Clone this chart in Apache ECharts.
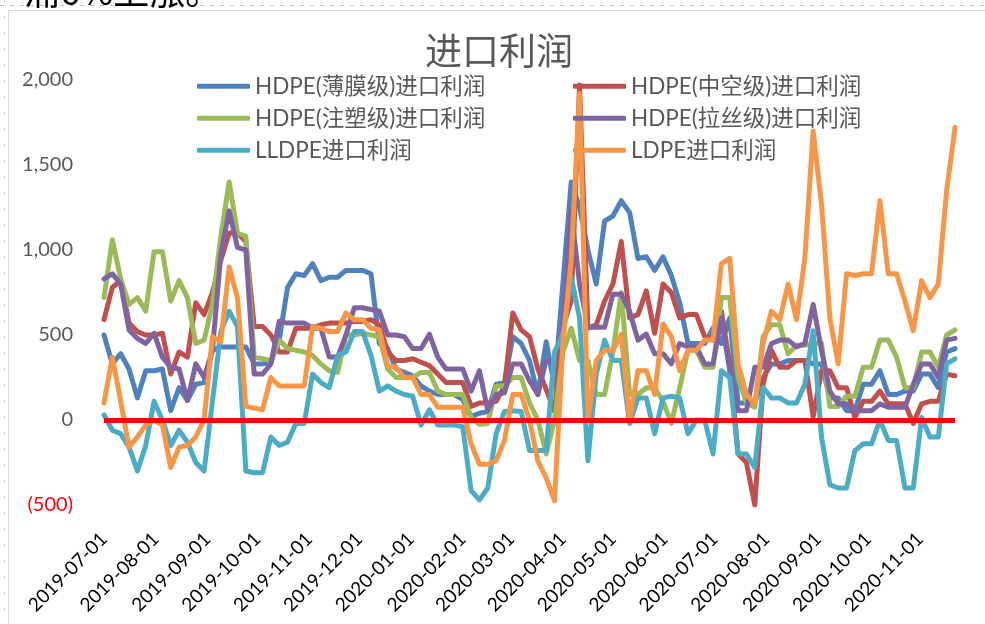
<!DOCTYPE html>
<html>
<head>
<meta charset="utf-8">
<script src="https://cdn.jsdelivr.net/npm/echarts@6/dist/echarts.min.js"></script>
<style>
  html, body { margin: 0; padding: 0; background: #fff; }
  #chart { width: 985px; height: 624px; }
</style>
</head>
<body>
<div id="chart"></div>
<script>
// sampled every 5 days from 2019-07-01
const startDate = [2019, 6, 1];
const stepDays = 5;

const seriesNames = [
  'HDPE(薄膜级)进口利润',
  'HDPE(中空级)进口利润',
  'HDPE(注塑级)进口利润',
  'HDPE(拉丝级)进口利润',
  'LLDPE进口利润',
  'LDPE进口利润'
];

const hdpeFilm = [
  500, 330, 390, 300, 130, 290, 290, 300, 55, 190, 115, 210, 220, 410, 430, 430, 430, 430, 330, 330,
  340, 470, 780, 860, 850, 920, 820, 840, 840, 880, 880, 880, 860, 450, 420, 300, 280, 260, 200, 170,
  150, 150, 150, 120, 20, 40, 50, 210, 220, 490, 450, 350, 150, 460, 200, 800, 1400, 1250, 1000, 800,
  1170, 1200, 1290, 1220, 950, 960, 880, 960, 850, 690, 450, 450, 450, 540, 450, 600, 100, 100, 100, 250,
  330, 330, 350, 350, 350, 330, 330, 130, 130, 55, 55, 210, 210, 290, 150, 150, 170, 170, 270, 270,
  190, 400, 420
];
const hdpeBlow = [
  590, 780, 820, 570, 520, 500, 500, 510, 270, 400, 370, 690, 620, 750, 940, 1100, 1100, 1050, 550, 550,
  500, 400, 400, 540, 540, 540, 560, 570, 570, 570, 580, 580, 590, 560, 400, 350, 350, 360, 340, 320,
  270, 220, 220, 220, 80, 100, 100, 110, 200, 630, 530, 490, 300, 180, 50, 550, 700, 1970, 540, 560,
  700, 800, 1050, 600, 620, 760, 510, 800, 750, 600, 620, 620, 490, 470, 640, 330, -200, -250, -500, 210,
  410, 310, 310, 350, 350, 20, 290, 290, 190, 190, 15, 110, 110, 170, 95, 95, 95, -20, 95, 110,
  110, 270, 260
];
const hdpeInject = [
  720, 1060, 830, 680, 720, 640, 990, 990, 700, 820, 720, 450, 470, 680, 1080, 1400, 1100, 1080, 370, 360,
  350, 470, 420, 410, 400, 380, 330, 290, 280, 500, 500, 510, 500, 490, 300, 250, 250, 250, 280, 280,
  170, 150, 150, 150, 15, -25, -20, 200, 200, 250, 250, 100, 0, -200, 0, 400, 540, 350, 350, 150,
  150, 400, 750, 150, 150, 190, 190, 110, -20, 190, 410, 410, 310, 310, 720, 720, 250, 100, 75, 490,
  560, 560, 390, 440, 440, 450, 450, 80, 80, 140, 140, 310, 310, 470, 470, 370, 190, 190, 400, 400,
  310, 500, 530
];
const hdpeYarn = [
  830, 860, 800, 530, 480, 450, 510, 370, 310, 300, 115, 330, 250, 410, 975, 1230, 1015, 1000, 270, 270,
  330, 580, 570, 570, 570, 540, 540, 370, 370, 500, 660, 660, 650, 640, 500, 500, 490, 420, 420, 505,
  370, 300, 300, 300, 170, 290, 55, 150, 160, 330, 330, 230, 150, 350, 350, 545, 1230, 800, 545, 545,
  545, 740, 740, 640, 470, 505, 390, 390, 330, 450, 430, 430, 330, 330, 600, 290, 55, 55, 310, 310,
  450, 470, 470, 430, 450, 680, 410, 170, 95, 95, 55, 55, 55, 95, 75, 75, 75, 210, 330, 330,
  250, 470, 480
];
const lldpe = [
  30, -60, -80, -160, -300, -150, 110, 0, -150, -60, -130, -250, -300, 110, 520, 640, 550, -300, -310, -310,
  -100, -150, -130, -20, -20, 270, 220, 190, 380, 400, 520, 520, 380, 170, 200, 170, 150, 140, -30, 60,
  -30, -30, -30, -40, -415, -470, -400, -80, 50, 55, 50, -180, -180, -180, 400, 505, 840, 600, -240, 270,
  470, 350, 350, -20, 130, 130, -80, 130, 140, 130, -80, 0, 0, -200, 290, 250, -200, -200, -280, 190,
  130, 130, 100, 100, 210, 525, -100, -380, -400, -400, -180, -140, -140, 0, -120, -120, -400, -400, 15, -100,
  -100, 330, 360
];
const ldpe = [
  100, 370, 110, -160, -100, -30, 0, -30, -280, -160, -150, -100, 0, 490, 460, 900, 720, 80, 70, 60,
  250, 200, 200, 200, 200, 550, 540, 520, 520, 630, 590, 590, 540, 530, 320, 310, 250, 250, 150, 150,
  75, 75, 75, 75, -140, -260, -260, -240, -120, 150, 150, 0, -240, -340, -475, 450, 940, 1920, 0, 350,
  410, 410, 505, 0, 290, 290, 150, 565, 490, 290, 410, 410, 470, 470, 920, 950, 330, 150, 95, 450,
  640, 590, 800, 590, 950, 1700, 1270, 600, 330, 860, 850, 860, 860, 1290, 860, 860, 700, 525, 820, 720,
  800, 1350, 1720
];

const seriesValues = [hdpeFilm, hdpeBlow, hdpeInject, hdpeYarn, lldpe, ldpe];
const colors = ['#4F81BD', '#C0504D', '#9BBB59', '#8064A2', '#4BACC6', '#F79646'];

const dates = hdpeFilm.map((v, i) =>
  new Date(startDate[0], startDate[1], startDate[2] + i * stepDays).getTime());

const DAY = 24 * 3600 * 1000;
const latin = 'Lato, "Noto Sans CJK SC", sans-serif';

function thousands(v) {
  return String(v).replace(/\B(?=(\d{3})+(?!\d))/g, ',');
}

const legendBase = {
  orient: 'vertical',
  top: 75,
  padding: 0,
  icon: 'roundRect',
  itemWidth: 53,
  itemHeight: 5,
  itemGap: 9.5,
  textStyle: { fontFamily: latin, fontSize: 22.5, lineHeight: 22, color: '#595959' }
};

const chart = echarts.init(document.getElementById('chart'));

chart.setOption({
  animation: false,
  color: colors,
  title: {
    text: '进口利润',
    left: 425,
    top: 32,
    padding: 0,
    textStyle: {
      fontFamily: '"Noto Sans CJK SC", sans-serif',
      fontSize: 37,
      fontWeight: 'normal',
      color: '#595959'
    }
  },
  legend: [
    Object.assign({}, legendBase, {
      left: 197,
      data: [seriesNames[0], seriesNames[2], seriesNames[4]]
    }),
    Object.assign({}, legendBase, {
      left: 573,
      data: [seriesNames[1], seriesNames[3], seriesNames[5]]
    })
  ],
  grid: {
    left: 104,
    right: 30,
    top: 80,
    bottom: 119,
    containLabel: false
  },
  xAxis: {
    type: 'time',
    min: new Date(2019, 6, 1).getTime(),
    max: new Date(2020, 10, 22).getTime(),
    minInterval: 28 * DAY,
    maxInterval: 31 * DAY,
    axisLine: { show: false },
    axisTick: { show: false },
    splitLine: { show: false },
    axisLabel: {
      rotate: 45,
      margin: 31,
      formatter: '{yyyy}-{MM}-{dd}',
      color: '#000',
      fontSize: 19,
      fontFamily: latin,
      showMinLabel: true,
      showMaxLabel: false,
      hideOverlap: false
    }
  },
  yAxis: {
    type: 'value',
    min: -500,
    max: 2000,
    interval: 500,
    axisLine: { show: false },
    axisTick: { show: false },
    splitLine: { show: false },
    axisLabel: {
      margin: 31,
      fontSize: 20,
      fontFamily: latin,
      color: (v) => (v < 0 ? '#FF0000' : '#595959'),
      formatter: (v) => (v < 0 ? '(' + thousands(-v) + ')' : thousands(v))
    }
  },
  series: seriesValues.map((vals, k) => ({
    name: seriesNames[k],
    type: 'line',
    symbol: 'none',
    data: dates.map((d, i) => [d, vals[i]]),
    lineStyle: { width: 5, color: colors[k], cap: 'round', join: 'round' },
    itemStyle: { color: colors[k] },
    markLine: k === 5 ? {
      silent: true,
      symbol: 'none',
      label: { show: false },
      lineStyle: { color: '#FF0000', width: 5, type: 'solid' },
      data: [{ yAxis: 0 }]
    } : undefined
  })),
  graphic: [
    {
      type: 'line',
      shape: { x1: 0, y1: 5.5, x2: 985, y2: 5.5 },
      style: { stroke: '#BFBFBF', lineWidth: 1, lineDash: [4, 6] },
      silent: true
    },
    {
      type: 'line',
      shape: { x1: 4.5, y1: 0, x2: 4.5, y2: 624 },
      style: { stroke: '#BFBFBF', lineWidth: 1, lineDash: [2, 14] },
      silent: true
    },
    {
      type: 'rect',
      shape: { x: 8.5, y: 10.5, width: 1000, height: 700 },
      style: { fill: null, stroke: '#D9D9D9', lineWidth: 1 },
      silent: true
    },
    {
      type: 'text',
      left: 24,
      top: -27,
      style: {
        text: '涌6%上涨。',
        fontFamily: '"Noto Sans CJK SC", sans-serif',
        fontSize: 36,
        fill: '#000'
      },
      silent: true
    }
  ]
});
</script>
</body>
</html>
